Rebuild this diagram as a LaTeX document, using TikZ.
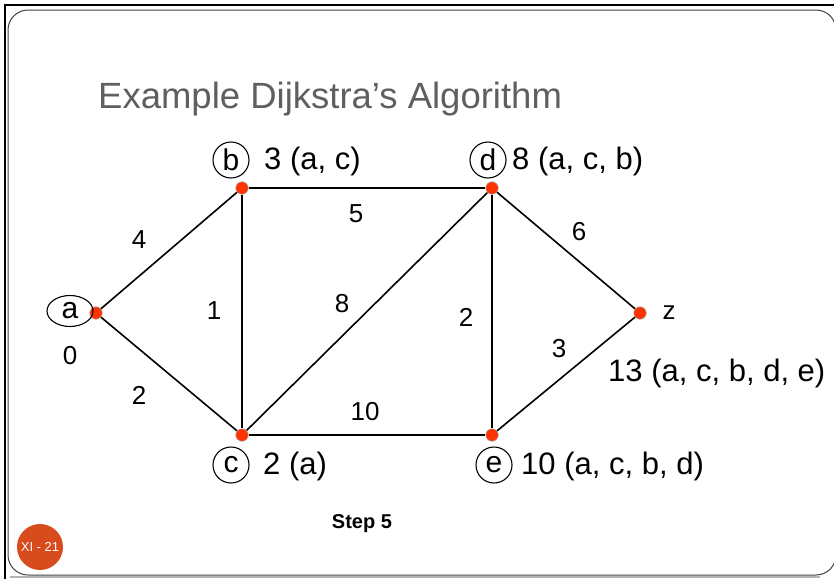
\documentclass[tikz,border=0pt]{standalone}
\usepackage{fontspec}
\setmainfont{Liberation Sans}
\usetikzlibrary{shapes.geometric}
\definecolor{dotred}{RGB}{255,51,0}
\definecolor{titlegray}{RGB}{95,95,95}
\definecolor{badge}{RGB}{216,75,28}
\tikzset{
  vert/.style={circle, fill=dotred, draw=gray!70, line width=0.6pt, minimum size=12.5pt, inner sep=0pt},
  tag/.style={circle, draw, line width=1.1pt, minimum size=36pt, inner sep=0pt, font=\fontsize{30}{30}\selectfont},
  wt/.style={font=\fontsize{26}{26}\selectfont},
  dist/.style={anchor=west, inner sep=0pt, font=\fontsize{31}{31}\selectfont},
  diag/.style={line width=1.6pt},
  hv/.style={line width=2.6pt},
}

\begin{document}
\begin{tikzpicture}[x=1pt, y=-1pt]
  \useasboundingbox (0,0) rectangle (834,579);
  % slide frame
  \draw[gray!60, line width=2pt] (10,577) -- (820,577);
  \draw[black!75, line width=1pt, rounded corners=20pt] (8,10) rectangle (836,575);
  \draw[line width=2.6pt] (5,579) -- (5,5) -- (834,5);

  \node[anchor=base west, text=titlegray, inner sep=0pt, font=\fontsize{36.5}{36.5}\selectfont] (title) at (98,108) {Example Dijkstra’s Algorithm};

  % vertices
  \node[vert] (a) at (96,313) {};
  \node[vert] (b) at (242,188) {};
  \node[vert] (d) at (492,188) {};
  \node[vert] (c) at (242,435) {};
  \node[vert] (e) at (492,435) {};
  \node[vert] (z) at (640,313) {};

  % edges
  \draw[diag] (a) -- (b);
  \draw[diag] (a) -- (c);
  \draw[hv] (b) -- (c);
  \draw[hv] (b) -- (d);
  \draw[diag] (c) -- (d);
  \draw[hv] (d) -- (e);
  \draw[hv] (c) -- (e);
  \draw[diag] (d) -- (z);
  \draw[diag] (e) -- (z);

  % names
  \node[ellipse, draw, line width=1.1pt, minimum width=46pt, minimum height=31pt, inner sep=0pt, font=\fontsize{30}{30}\selectfont] (la) at (70,311) {a};
  \node[tag] (lb) at (231,160) {b};
  \node[tag] (ld) at (488,160) {d};
  \node[tag] (lc) at (231,465) {c};
  \node[tag] (le) at (494,465) {e};
  \node[wt] (lz) at (669,313) {z};

  % weights
  \node[wt] (w1) at (139,240) {4};
  \node[wt] (w2) at (356,214) {5};
  \node[wt] (w3) at (579,232) {6};
  \node[wt] (w4) at (214,311) {1};
  \node[wt] (w5) at (342,304) {8};
  \node[wt] (w6) at (466,317) {2};
  \node[wt] (w7) at (559,349) {3};
  \node[wt] (w8) at (139,395) {2};
  \node[wt] (w9) at (365,412) {10};

  % distances
  \node[wt] (d0) at (70,356) {0};
  \node[dist] (db) at (264,161) {3 (a, c)};
  \node[dist] (dd) at (512,161) {8 (a, c, b)};
  \node[dist] (dc) at (263,466) {2 (a)};
  \node[dist] (de) at (521,466) {10 (a, c, b, d)};
  \node[dist] (dz) at (608,373) {13 (a, c, b, d, e)};

  \node[font=\bfseries\fontsize{20}{20}\selectfont] (step) at (362,524) {Step 5};
  \node[circle, fill=badge, minimum size=46pt, inner sep=0pt, text=white, font=\fontsize{13}{13}\selectfont] (page) at (40,547) {XI - 21};
  \draw[line width=2.6pt] (5,520) -- (5,579);
\end{tikzpicture}
\end{document}
